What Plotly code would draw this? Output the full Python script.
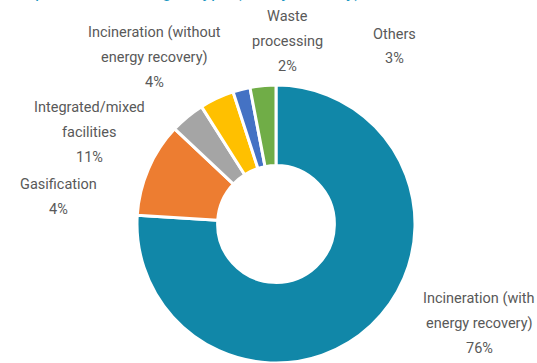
import plotly.graph_objects as go

categories = [
    "Incineration (with energy recovery)",
    "Integrated/mixed facilities",
    "Gasification",
    "Incineration (without energy recovery)",
    "Waste processing",
    "Others",
]
values = [76, 11, 4, 4, 2, 3]
label_lines = [
    ["Incineration (with", "energy recovery)"],
    ["Integrated/mixed", "facilities"],
    ["Gasification"],
    ["Incineration (without", "energy recovery)"],
    ["Waste", "processing"],
    ["Others"],
]
colors = ["#1187A8", "#ED7D31", "#A5A5A5", "#FFC000", "#4472C4", "#70AD47"]
title_text = "plants, according to type (EU, by country)"

W, H = 537, 363
# label anchor (center x, first line center y) in pixels
label_pos = [(479, 298), (89.5, 107), (58, 184), (154.5, 32), (287, 16), (394, 34)]
line_step = 25

fig = go.Figure()
fig.add_trace(go.Pie(
    labels=categories,
    values=values,
    sort=False,
    direction="clockwise",
    rotation=0,
    hole=0.42,
    textinfo="none",
    hoverinfo="label+percent",
    marker=dict(colors=colors, line=dict(color="white", width=3)),
    domain=dict(x=[136 / W, 416 / W], y=[0, 278 / H]),
    showlegend=False,
))

annotations = []
for lines, v, (cx, cy) in zip(label_lines, values, label_pos):
    all_lines = lines + [f"{v}%"]
    for i, t in enumerate(all_lines):
        y = cy + i * line_step
        annotations.append(dict(
            text=t, x=cx / W, y=1 - y / H, xref="paper", yref="paper",
            xanchor="center", yanchor="middle", showarrow=False,
            font=dict(family="Roboto", size=14.5, color="#595959"),
        ))

annotations.append(dict(
    text=title_text, x=33 / W, y=1, xref="paper", yref="paper",
    xanchor="left", yanchor="bottom", showarrow=False,
    font=dict(family="Roboto", size=18, color="#1B97C2"),
    yshift=-4,
))

fig.update_layout(
    width=W, height=H,
    margin=dict(l=0, r=0, t=0, b=0),
    paper_bgcolor="white",
    plot_bgcolor="white",
    annotations=annotations,
)
fig.write_html("out.html")
